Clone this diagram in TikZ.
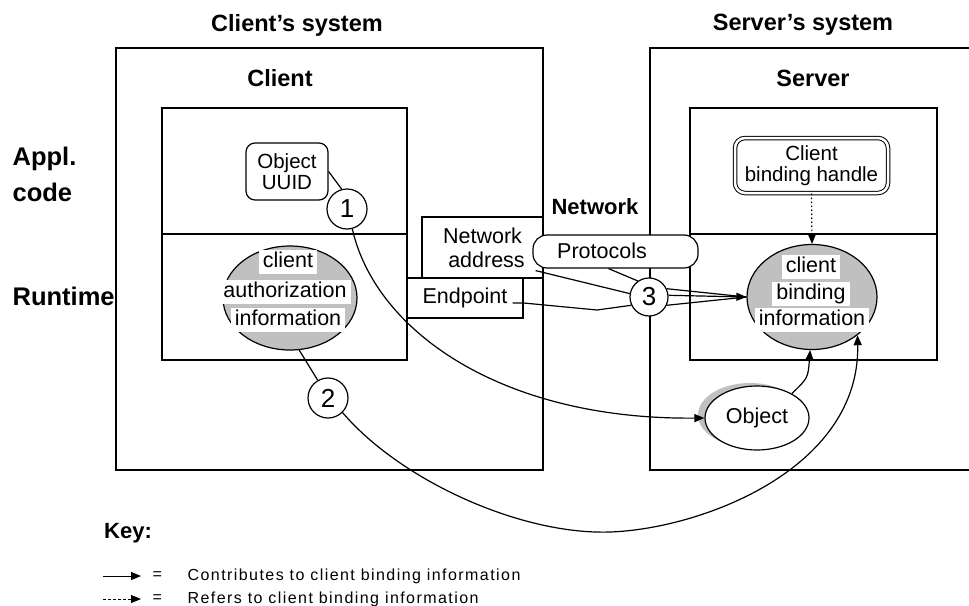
\documentclass[tikz,border=0pt]{standalone}
\usepackage{fontspec}
\setmainfont{Liberation Sans}
\newfontfamily\keyfont[LetterSpace=9]{Liberation Sans}
\usetikzlibrary{arrows.meta,calc,shapes.geometric}
\definecolor{shade}{RGB}{192,192,192}
\begin{document}
\begin{tikzpicture}[x=1pt,y=-1pt, line width=1.2pt,
  tip/.style={-{Triangle[length=10pt,width=8pt]}},
  lbl/.style={font=\fontsize{21.5}{24}\selectfont, inner sep=0pt},
  hdr/.style={font=\bfseries\fontsize{23.5}{25}\selectfont, inner sep=0pt},
  sidelbl/.style={font=\bfseries\fontsize{25.5}{27}\selectfont, inner sep=0pt, anchor=west},
  num/.style={circle, draw, fill=white, minimum size=40pt, inner sep=0pt, font=\fontsize{26}{26}\selectfont},
  wbox/.style={draw, fill=white, inner sep=0pt},
  gell/.style={ellipse, draw, fill=shade, inner sep=0pt},
  wtxt/.style={fill=white, font=\fontsize{21.5}{21.5}\selectfont, inner xsep=4pt, inner ysep=2pt, text height=15.5pt, text depth=4pt},
  keytxt/.style={font=\keyfont\fontsize{16}{16}\selectfont, anchor=west, inner sep=0pt}
]
\useasboundingbox (0,0) rectangle (969,605);
\fill[white] (0,0) rectangle (969,605);

% titles
\node[hdr] (tclient) at (297,25) {Client's system};
\node[hdr] (tserver) at (803,25) {Server's system};
\node[hdr] (client) at (280,78) {Client};
\node[hdr] (server) at (813,78) {Server};
\node[hdr, font=\bfseries\fontsize{22}{24}\selectfont] (network) at (595,207) {Network};
\node[sidelbl] (appl) at (12,159) {Appl.};
\node[sidelbl] (code) at (12,192) {code};
\node[sidelbl] (runtime) at (12,296) {Runtime};

% system boxes
\draw (116,48) rectangle (543,470);
\draw (975,48) -- (650,48) -- (650,470) -- (975,470);
\draw (162,108) rectangle (407,360);
\draw (162,234) -- (407,234);
\draw (690,108) rectangle (937,360);
\draw (690,234) -- (937,234);

% network boxes
\node[wbox, lbl, minimum width=121pt, minimum height=61pt, align=center] (netaddr) at (482.5,247.5) {Network\\\hspace*{8pt}address};
\node[wbox, lbl, minimum width=116pt, minimum height=40pt] (endpoint) at (465,298) {Endpoint};
\node[wbox, rounded corners=14pt, minimum width=165pt, minimum height=33pt] (proto) at (615.5,251.5) {};
\node[lbl] (prototxt) at (602,251) {Protocols};

% application code objects
\node[draw, fill=white, rounded corners=9pt, minimum width=82pt, minimum height=57pt, align=center, font=\fontsize{20.5}{21}\selectfont, inner sep=0pt] (uuid) at (287,171.5) {Object\\UUID};
\node[draw, double, double distance=2.5pt, line width=1pt, rounded corners=10pt, minimum width=153pt, minimum height=55pt, align=center, font=\fontsize{20.5}{21}\selectfont, inner sep=0pt] (handle) at (811.5,165.5) {Client\\binding handle};

% ellipses
\node[gell, minimum width=134pt, minimum height=104pt] (auth) at (290,298) {};
\node[wtxt] (a1) at (288,262) {client};
\node[wtxt] (a2) at (285,292) {authorization};
\node[wtxt] (a3) at (288,320) {information};

\node[gell, minimum width=130pt, minimum height=105pt] (bind) at (812,297) {};
\node[wtxt] (b1) at (811,267) {client};
\node[wtxt] (b2) at (811,294) {binding};
\node[wtxt] (b3) at (812,320) {information};

\node[ellipse, fill=shade, minimum width=104pt, minimum height=64pt] (objshadow) at (750,415) {};
\node[ellipse, draw, fill=white, minimum width=104pt, minimum height=64pt, lbl] (obj) at (757,418) {Object};

% numbered circles
\node[num] (c1) at (347,209) {1};
\node[num] (c2) at (328,398) {2};
\node[num, minimum size=38pt] (c3) at (649,297) {3};

% connectors
\draw (uuid.east) -- (c1.105);
\draw (auth.-80) -- (c2.120);
\draw[tip] (c1.-75) .. controls (375,330) and (500,420) .. (obj.west);
\draw[tip] (c2.-45) .. controls (400,480) and (520,535) .. (610,532)
           .. controls (700,529) and (860,470) .. (bind.-40);
\draw[tip] (obj.35) .. controls (808,378) .. (bind.-92);
\draw[tip, dash pattern=on 1.5pt off 2.5pt] (handle.south) -- (bind.north);

\draw ($(netaddr.south east)+(-8,-8)$) -- (c3.170);
\draw ($(proto.south)+(-7,0)$) -- (c3.125);
\draw ($(endpoint.east)+(-11,5)$) -- ($(endpoint.east)+(0,5)$) -- (597,310) -- (c3.-155);
\draw (c3.25) -- (bind.west);
\draw (c3.-25) -- (bind.west);
\draw[tip] (c3.5) -- (bind.west);

% key
\node[hdr, font=\bfseries\fontsize{22}{24}\selectfont] (key) at (128,533) {Key:};
\coordinate (k1a) at (103,576); \coordinate (k1b) at (141,576);
\coordinate (k2a) at (103,599); \coordinate (k2b) at (141,599);
\draw[tip, line width=1pt] (k1a) -- (k1b);
\draw[tip, line width=1pt, dash pattern=on 3pt off 2pt] (k2a) -- (k2b);
\node[keytxt] (eq1) at (152,576) {=};
\node[keytxt] (eq2) at (152,599) {=};
\node[keytxt] (kt1) at (187,576) {Contributes to client binding information};
\node[keytxt] (kt2) at (187,599) {Refers to client binding information};
\end{tikzpicture}
\end{document}
